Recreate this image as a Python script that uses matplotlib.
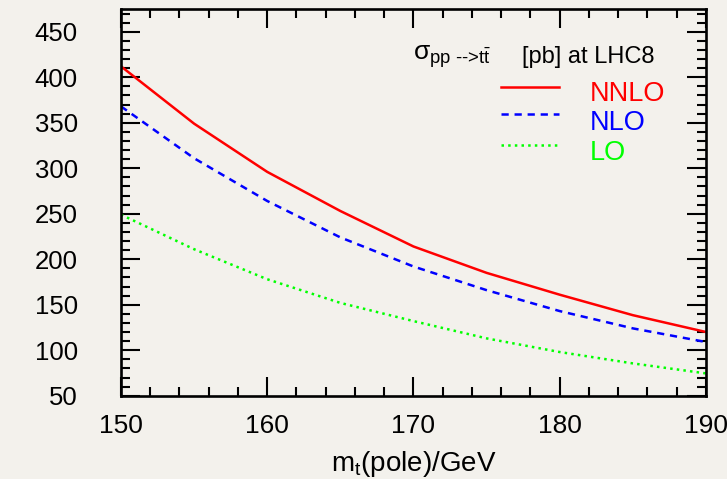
import matplotlib
matplotlib.use("Agg")
import matplotlib.pyplot as plt
from matplotlib.ticker import MultipleLocator

# top-quark pair cross section at LHC 8 TeV vs pole mass
mt = [150, 155, 160, 165, 170, 175, 180, 185, 190]
nnlo = [412, 349, 296, 253, 214, 185, 161, 138.5, 120]
nlo = [368, 311, 264, 224, 192, 166, 143, 124, 109]
lo = [249, 211, 178, 152, 132, 113, 98, 85.5, 74.5]

labels = ["NNLO", "NLO", "LO"]
colors = ["#ff0000", "#0000ff", "#00ff00"]

plt.rcParams['font.family'] = ['Liberation Sans', 'DejaVu Sans']
plt.rcParams['mathtext.fontset'] = 'custom'
plt.rcParams['mathtext.rm'] = 'Liberation Sans'
plt.rcParams['mathtext.it'] = 'Liberation Sans:italic'
plt.rcParams['lines.scale_dashes'] = False

bg = "#f3f1ec"
fig = plt.figure(figsize=(7.27, 4.79), dpi=100, facecolor=bg)
ax = fig.add_axes([0.1664, 0.1739, 0.8047, 0.8073])
ax.set_facecolor(bg)

lw = 1.8
styles = [dict(linestyle="-"), dict(dashes=(5.2, 4.2)), dict(dashes=(1.8, 3.0))]
for ys, c, st in zip([nnlo, nlo, lo], colors, styles):
    ax.plot(mt, ys, color=c, linewidth=lw, **st)

ax.set_xlim(150, 190)
ax.set_ylim(50, 475)
ax.xaxis.set_major_locator(MultipleLocator(10))
ax.xaxis.set_minor_locator(MultipleLocator(2))
ax.yaxis.set_major_locator(MultipleLocator(50))
ax.yaxis.set_minor_locator(MultipleLocator(10))

for s in ax.spines.values():
    s.set_linewidth(1.9)
ax.tick_params(which="both", direction="in", top=True, right=True, width=1.5)
ax.tick_params(which="major", length=13.5)
ax.tick_params(which="minor", length=6.5)
ax.tick_params(axis="y", which="major", labelsize=18.5, pad=31)
ax.tick_params(axis="x", which="major", labelsize=19, pad=13)

ax.set_xlabel(r"m$_\mathrm{t}$(pole)/GeV", fontsize=20, labelpad=8)

# legend drawn by hand, ROOT style
ax.text(0.499, 0.868, r"σ$_{\text{pp -->}\mathrm{t}\bar{\mathrm{t}}}$",
        transform=ax.transAxes, fontsize=19, ha="left", va="baseline")
ax.text(0.685, 0.860, "[pb] at LHC8",
        transform=ax.transAxes, fontsize=17, ha="left", va="baseline")
line_y = [0.799, 0.728, 0.648]
text_y = [0.779, 0.706, 0.627]
for lab, c, st, ly, ty in zip(labels, colors, styles, line_y, text_y):
    ax.plot([0.650, 0.749], [ly, ly], transform=ax.transAxes, color=c,
            linewidth=lw, **st)
    ax.text(0.802, ty, lab, transform=ax.transAxes, color=c, fontsize=19.5,
            ha="left", va="center")

fig.savefig("out.png", dpi=100, facecolor=bg)
